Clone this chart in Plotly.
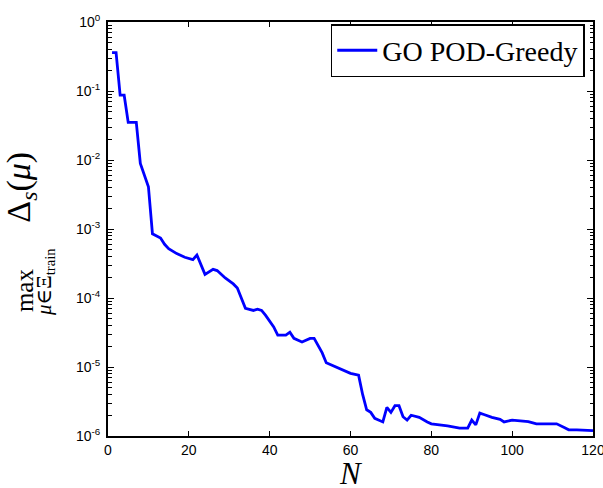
import plotly.graph_objects as go

N = [1, 2, 3, 4, 5, 7, 8, 10, 11, 13, 14, 15, 17, 19, 21, 22, 24, 26, 27, 29,
     31, 32, 34, 36, 37, 38, 39, 41, 42, 44, 45, 46, 48, 50, 51, 53, 54, 56, 58, 60,
     62, 63, 64, 65, 66, 68, 69, 70, 71, 72, 73, 74, 75, 77, 79, 80, 84, 87, 89, 90,
     91, 92, 93, 95, 97, 98, 100, 104, 106, 110, 111, 113, 114, 116, 120]
delta_max = [0.36, 0.36, 0.087, 0.087, 0.035, 0.035, 8.9e-3, 4.1e-3, 8.5e-4, 7.4e-4,
             6.0e-4, 5.2e-4, 4.4e-4, 3.9e-4, 3.6e-4, 4.2e-4, 2.2e-4, 2.6e-4, 2.5e-4, 1.95e-4,
             1.6e-4, 1.4e-4, 7.1e-5, 6.6e-5, 6.9e-5, 6.6e-5, 5.6e-5, 3.8e-5, 2.9e-5, 2.9e-5,
             3.2e-5, 2.6e-5, 2.3e-5, 2.6e-5, 2.6e-5, 1.6e-5, 1.15e-5, 1.02e-5, 9.1e-6, 8.1e-6,
             7.6e-6, 4.0e-6, 2.4e-6, 2.2e-6, 1.8e-6, 1.6e-6, 2.6e-6, 2.2e-6, 2.75e-6, 2.75e-6,
             1.9e-6, 1.7e-6, 2.0e-6, 1.86e-6, 1.6e-6, 1.5e-6, 1.4e-6, 1.3e-6, 1.3e-6, 1.7e-6,
             1.45e-6, 2.15e-6, 2.05e-6, 1.86e-6, 1.74e-6, 1.6e-6, 1.7e-6, 1.62e-6, 1.5e-6, 1.48e-6,
             1.5e-6, 1.32e-6, 1.23e-6, 1.23e-6, 1.2e-6]

x_ticks = [0, 20, 40, 60, 80, 100, 120]
y_tickvals = [1e0, 1e-1, 1e-2, 1e-3, 1e-4, 1e-5, 1e-6]
y_ticktext = ["10<sup>0</sup>", "10<sup>-1</sup>", "10<sup>-2</sup>", "10<sup>-3</sup>",
              "10<sup>-4</sup>", "10<sup>-5</sup>", "10<sup>-6</sup>"]
y_minor_mantissas = [2, 3, 4, 5, 6, 7, 8, 9]
series_name = "GO POD-Greedy"

y_minor_vals = [m * d for d in y_tickvals[1:] for m in y_minor_mantissas]

SERIF = "Liberation Serif, DejaVu Serif, serif"
SANS = "Liberation Sans, Arial, sans-serif"

fig = go.Figure()
fig.add_trace(go.Scatter(x=N, y=delta_max, mode="lines", name=series_name,
                         line=dict(color="#0000ff", width=2.8)))
# the same series on an overlay axis, invisible, only to carry the minor log ticks
fig.add_trace(go.Scatter(x=N, y=delta_max, yaxis="y2", mode="lines", showlegend=False,
                         hoverinfo="skip", line=dict(width=0), opacity=0))

fig.update_layout(
    width=603, height=488,
    margin=dict(l=108, r=10, t=22, b=52, autoexpand=False),
    paper_bgcolor="white", plot_bgcolor="white",
    showlegend=True,
    legend=dict(x=0.983, y=0.995, xanchor="right", yanchor="top",
                bgcolor="white", bordercolor="black", borderwidth=1.5,
                font=dict(family=SERIF, size=28, color="black"),
                tracegroupgap=0, itemwidth=40),
    xaxis=dict(range=[0, 120], tickvals=x_ticks, ticks="inside", ticklen=5,
               tickwidth=1.2, tickcolor="black", showline=True, linecolor="black",
               linewidth=2, mirror="ticks", showgrid=False, zeroline=False,
               ticklabeloverflow="allow",
               tickfont=dict(family=SANS, size=14, color="black")),
    yaxis=dict(type="log", range=[-6, 0], tickvals=y_tickvals, ticktext=y_ticktext,
               ticks="inside", ticklen=6, tickwidth=1.2, tickcolor="black",
               showline=True, linecolor="black", linewidth=2, mirror="ticks",
               showgrid=False, zeroline=False, ticklabelstandoff=3,
               tickfont=dict(family=SANS, size=14, color="black")),
    yaxis2=dict(type="log", range=[-6, 0], overlaying="y", side="left",
                tickmode="array", tickvals=y_minor_vals, showticklabels=False,
                ticks="inside", ticklen=3.5, tickwidth=1.2, tickcolor="black",
                showline=True, linecolor="black", linewidth=2, mirror="ticks",
                showgrid=False, zeroline=False),
)

# axis titles
fig.add_annotation(text="<i>N</i>", xref="paper", yref="paper", x=0.5, y=-0.09,
                   xanchor="center", yanchor="middle", showarrow=False,
                   font=dict(family=SERIF, size=31, color="black"))
fig.add_annotation(text="max", xref="paper", yref="paper", x=-0.173, y=(436 - 290) / 414,
                   xanchor="center", yanchor="middle", showarrow=False, textangle=-90,
                   font=dict(family=SERIF, size=25, color="black"))
fig.add_annotation(text="<i>μ</i>∈Ξ<sub>train</sub>", xref="paper", yref="paper",
                   x=-0.13, y=(436 - 282) / 414,
                   xanchor="center", yanchor="middle", showarrow=False, textangle=-90,
                   font=dict(family=SERIF, size=21, color="black"))
fig.add_annotation(text="Δ<sub><i>s</i></sub>(<i>μ</i>)", xref="paper", yref="paper",
                   x=-0.18, y=(436 - 187) / 414,
                   xanchor="center", yanchor="middle", showarrow=False, textangle=-90,
                   font=dict(family=SERIF, size=34, color="black"))

fig.write_html("out.html", config={"displayModeBar": False},
               post_script="document.body.style.margin='0';")
